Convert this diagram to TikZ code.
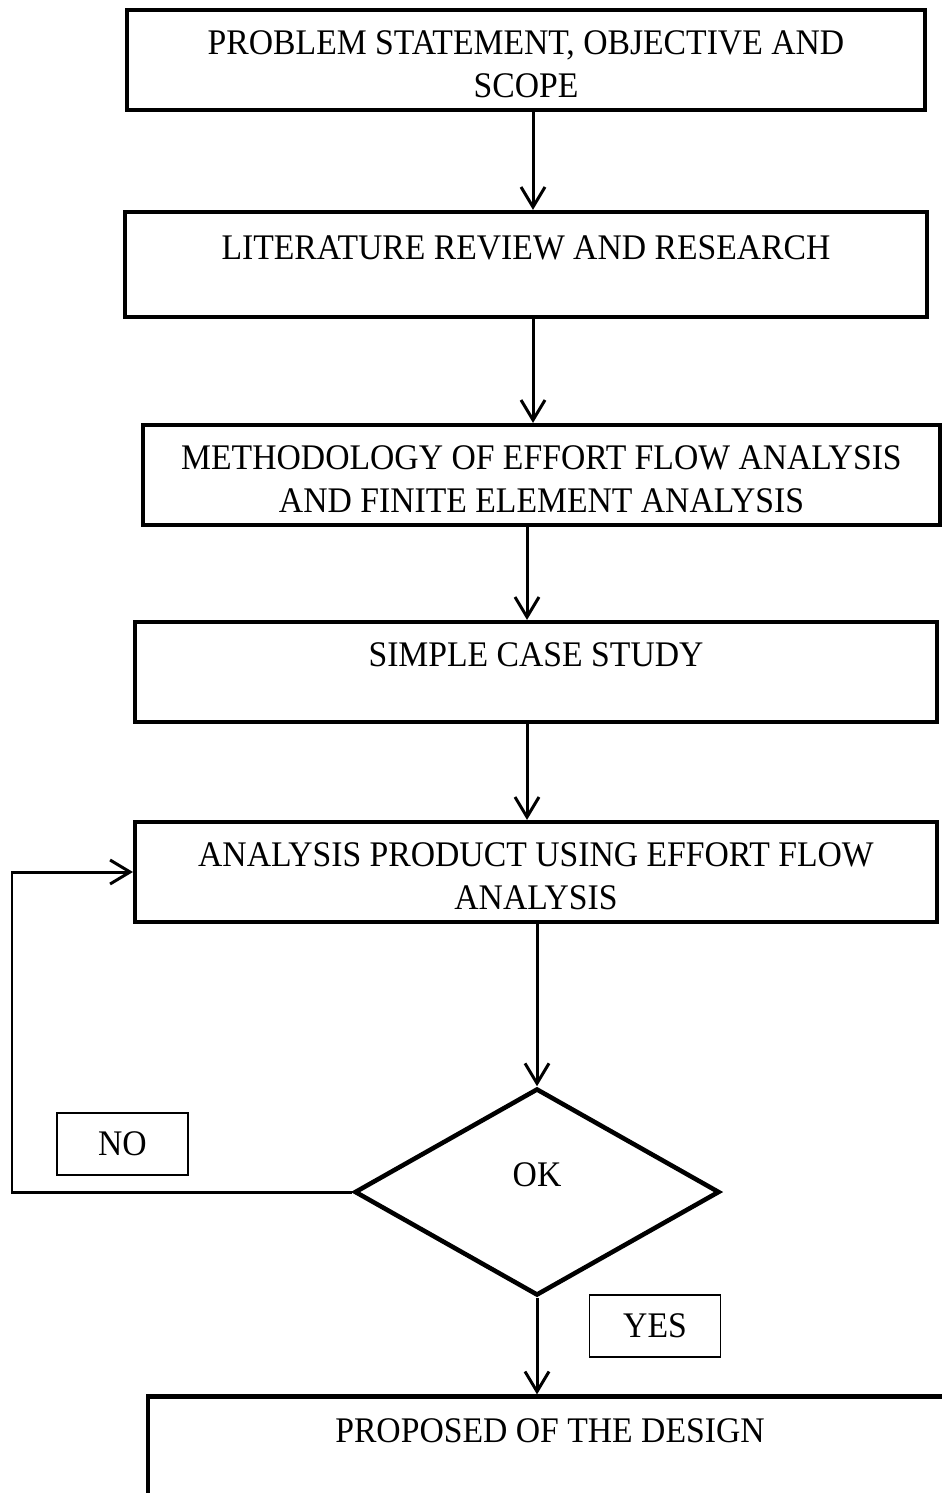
\documentclass[tikz,border=0pt]{standalone}
\usepackage{fontspec}
\setmainfont{Liberation Serif}[FakeStretch=0.935]
\usepackage{tikz}
\usetikzlibrary{arrows.meta}
\usetikzlibrary{shapes.geometric, calc}

\tikzset{
    stage/.style={draw, line width=2.4pt, minimum width=16.04cm, minimum height=2cm,
        inner sep=0pt, align=center, font=\fontsize{20.5}{24.5}\selectfont},
    decision/.style={draw, diamond, line width=2.6pt, minimum width=7.3cm,
        minimum height=4.14cm, inner sep=0pt, font=\fontsize{20.5}{24.5}\selectfont},
    tag/.style={draw, line width=1pt, minimum width=2.62cm, minimum height=1.24cm,
        inner sep=0pt, font=\fontsize{20.5}{24.5}\selectfont},
    flow/.style={line width=1.7pt, -{Straight Barb[length=0.4cm, width=0.48cm]}}
}
\newcommand{\lowered}{\rule{0pt}{18.6pt}}

\begin{document}
\begin{tikzpicture}[x=0.02cm, y=-0.02cm]
                \useasboundingbox (0,0) rectangle (942,1493);
                \clip (0,0) rectangle (942,1493);
                % Stages
                \node[stage, minimum width=15.96cm] (problem) at (526,60) {\lowered PROBLEM STATEMENT, OBJECTIVE AND\\SCOPE};
                \node[stage, minimum height=2.1cm] (review) at (526,264.5) {\lowered LITERATURE REVIEW AND RESEARCH\\~};
                \node[stage, minimum width=15.94cm] (method) at (541.5,475) {\lowered METHODOLOGY OF EFFORT FLOW ANALYSIS\\AND FINITE ELEMENT ANALYSIS};
                \node[stage] (casestudy) at (536,672) {\lowered SIMPLE CASE STUDY\\~};
                \node[stage] (analysis) at (536,872) {\lowered ANALYSIS PRODUCT USING EFFORT FLOW\\ANALYSIS};
                \node[decision, text depth=19.4pt] (check) at (537,1192) {OK};
                \node[stage, minimum width=16.08cm, minimum height=2.06cm] (design) at (550,1448) {\lowered PROPOSED OF THE DESIGN\\~};
                % Answers
                \node[tag] (no) at (122.5,1144) {NO};
                \node[tag] (yes) at (655,1326) {YES};
                % Arrows
                \foreach \a/\b/\x in {problem/review/533, review/method/533, method/casestudy/527, casestudy/analysis/527} {
                    \draw[flow] (\a.south -| \x,0) -- (\b.north -| \x,0);
                }
                \draw[flow] (analysis.south -| check.north) -- (check.north);
                \draw[flow] (check.south) -- (design.north -| check.south);
                % Loop back
                \coordinate (corner) at (12,1192);
                \draw[flow] (check.west) -- (corner) |- (analysis.west);
            \end{tikzpicture}
\end{document}
